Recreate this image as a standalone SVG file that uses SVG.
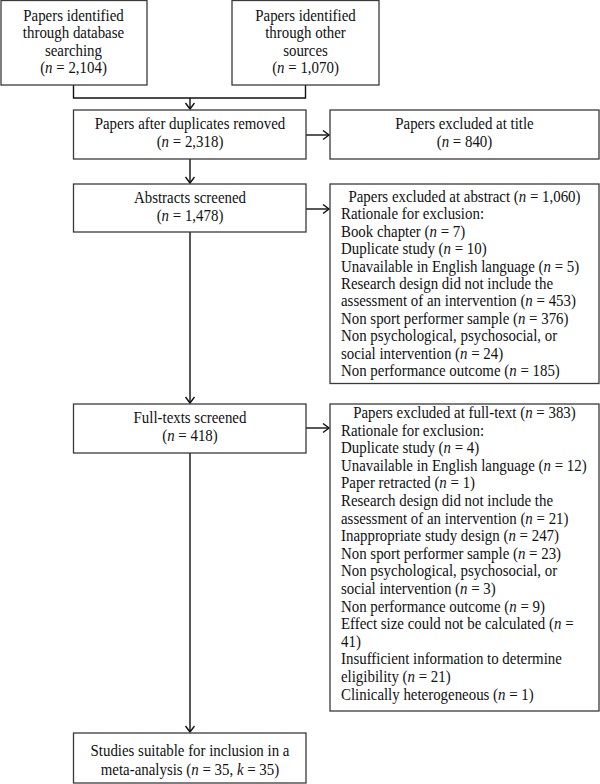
<svg xmlns="http://www.w3.org/2000/svg" width="600" height="784" viewBox="0 0 600 784">
<style>
  .box { fill: #ffffff; stroke: #3a3a3a; stroke-width: 1.3; }
  .t { font-family: "Liberation Serif", "Times New Roman", serif; font-size: 16.2px; fill: #111111; }
  .c { text-anchor: middle; }
  .i { font-style: italic; }
  .ln { fill: none; stroke: #111111; stroke-width: 1.4; }
</style>
<defs>
  <marker id="arr" markerUnits="userSpaceOnUse" markerWidth="12" markerHeight="12" refX="7" refY="5" orient="auto">
    <path d="M1,0.5 L7,5 L1,9.5" fill="none" stroke="#111111" stroke-width="1.4"/>
  </marker>
</defs>
<rect x="0" y="0" width="600" height="784" fill="#ffffff"/>

<g id="connectors">
  <path class="ln" d="M73.5,85 V98 H305.5 V85"/>
  <path class="ln" d="M190,98 V109" marker-end="url(#arr)"/>
  <path class="ln" d="M306,135 H329" marker-end="url(#arr)"/>
  <path class="ln" d="M190,159 V183" marker-end="url(#arr)"/>
  <path class="ln" d="M306,209 H329" marker-end="url(#arr)"/>
  <path class="ln" d="M190,232 V403" marker-end="url(#arr)"/>
  <path class="ln" d="M306,428 H329" marker-end="url(#arr)"/>
  <path class="ln" d="M190,453 V732" marker-end="url(#arr)"/>
</g>

<g id="n1">
  <rect class="box" x="1" y="0.5" width="146" height="84.5"/>
  <g transform="scale(0.92 1)">
  <text class="t c" x="79.89" y="21">Papers identified</text>
  <text class="t c" x="79.89" y="38.5">through database</text>
  <text class="t c" x="79.89" y="56">searching</text>
  <text class="t c" x="79.89" y="73.5">(<tspan class="i">n</tspan> = 2,104)</text>
  </g>
</g>

<g id="n2">
  <rect class="box" x="232" y="0.5" width="147" height="84.5"/>
  <g transform="scale(0.92 1)">
  <text class="t c" x="332.07" y="21">Papers identified</text>
  <text class="t c" x="332.07" y="38.5">through other</text>
  <text class="t c" x="332.07" y="56">sources</text>
  <text class="t c" x="332.07" y="73.5">(<tspan class="i">n</tspan> = 1,070)</text>
  </g>
</g>

<g id="n3">
  <rect class="box" x="73.5" y="110" width="232.5" height="49"/>
  <g transform="scale(0.92 1)">
  <text class="t c" x="206.52" y="129">Papers after duplicates removed</text>
  <text class="t c" x="206.52" y="147">(<tspan class="i">n</tspan> = 2,318)</text>
  </g>
</g>

<g id="n4">
  <rect class="box" x="330" y="110" width="269" height="49"/>
  <g transform="scale(0.92 1)">
  <text class="t c" x="504.89" y="129">Papers excluded at title</text>
  <text class="t c" x="504.89" y="147">(<tspan class="i">n</tspan> = 840)</text>
  </g>
</g>

<g id="n5">
  <rect class="box" x="73.5" y="184" width="232.5" height="48"/>
  <g transform="scale(0.92 1)">
  <text class="t c" x="206.52" y="203">Abstracts screened</text>
  <text class="t c" x="206.52" y="221">(<tspan class="i">n</tspan> = 1,478)</text>
  </g>
</g>

<g id="n6">
  <rect class="box" x="330" y="184" width="269" height="199.5"/>
  <g transform="scale(0.92 1)">
  <text class="t c" x="504.89" y="202">Papers excluded at abstract (<tspan class="i">n</tspan> = 1,060)</text>
  <text class="t" x="370.65" y="219.4">Rationale for exclusion:</text>
  <text class="t" x="370.65" y="236.8">Book chapter (<tspan class="i">n</tspan> = 7)</text>
  <text class="t" x="370.65" y="254.2">Duplicate study (<tspan class="i">n</tspan> = 10)</text>
  <text class="t" x="370.65" y="271.6">Unavailable in English language (<tspan class="i">n</tspan> = 5)</text>
  <text class="t" x="370.65" y="289">Research design did not include the</text>
  <text class="t" x="370.65" y="306.4">assessment of an intervention (<tspan class="i">n</tspan> = 453)</text>
  <text class="t" x="370.65" y="323.8">Non sport performer sample (<tspan class="i">n</tspan> = 376)</text>
  <text class="t" x="370.65" y="341.2">Non psychological, psychosocial, or</text>
  <text class="t" x="370.65" y="358.6">social intervention (<tspan class="i">n</tspan> = 24)</text>
  <text class="t" x="370.65" y="376">Non performance outcome (<tspan class="i">n</tspan> = 185)</text>
  </g>
</g>

<g id="n7">
  <rect class="box" x="73.5" y="404" width="232.5" height="49"/>
  <g transform="scale(0.92 1)">
  <text class="t c" x="206.52" y="423">Full-texts screened</text>
  <text class="t c" x="206.52" y="441">(<tspan class="i">n</tspan> = 418)</text>
  </g>
</g>

<g id="n8">
  <rect class="box" x="330" y="404" width="269" height="307"/>
  <g transform="scale(0.92 1)">
  <text class="t c" x="504.89" y="418">Papers excluded at full-text (<tspan class="i">n</tspan> = 383)</text>
  <text class="t" x="370.65" y="435.6">Rationale for exclusion:</text>
  <text class="t" x="370.65" y="453.2">Duplicate study (<tspan class="i">n</tspan> = 4)</text>
  <text class="t" x="370.65" y="470.8">Unavailable in English language (<tspan class="i">n</tspan> = 12)</text>
  <text class="t" x="370.65" y="488.4">Paper retracted (<tspan class="i">n</tspan> = 1)</text>
  <text class="t" x="370.65" y="506">Research design did not include the</text>
  <text class="t" x="370.65" y="523.6">assessment of an intervention (<tspan class="i">n</tspan> = 21)</text>
  <text class="t" x="370.65" y="541.2">Inappropriate study design (<tspan class="i">n</tspan> = 247)</text>
  <text class="t" x="370.65" y="558.8">Non sport performer sample (<tspan class="i">n</tspan> = 23)</text>
  <text class="t" x="370.65" y="576.4">Non psychological, psychosocial, or</text>
  <text class="t" x="370.65" y="594">social intervention (<tspan class="i">n</tspan> = 3)</text>
  <text class="t" x="370.65" y="611.6">Non performance outcome (<tspan class="i">n</tspan> = 9)</text>
  <text class="t" x="370.65" y="629.2">Effect size could not be calculated (<tspan class="i">n</tspan> =</text>
  <text class="t" x="370.65" y="646.8">41)</text>
  <text class="t" x="370.65" y="664.4">Insufficient information to determine</text>
  <text class="t" x="370.65" y="682">eligibility (<tspan class="i">n</tspan> = 21)</text>
  <text class="t" x="370.65" y="699.6">Clinically heterogeneous (<tspan class="i">n</tspan> = 1)</text>
  </g>
</g>

<g id="n9">
  <rect class="box" x="73.5" y="733" width="232.5" height="50"/>
  <g transform="scale(0.92 1)">
  <text class="t c" x="206.52" y="756">Studies suitable for inclusion in a</text>
  <text class="t c" x="206.52" y="775">meta-analysis (<tspan class="i">n</tspan> = 35, <tspan class="i">k</tspan> = 35)</text>
  </g>
</g>
</svg>
